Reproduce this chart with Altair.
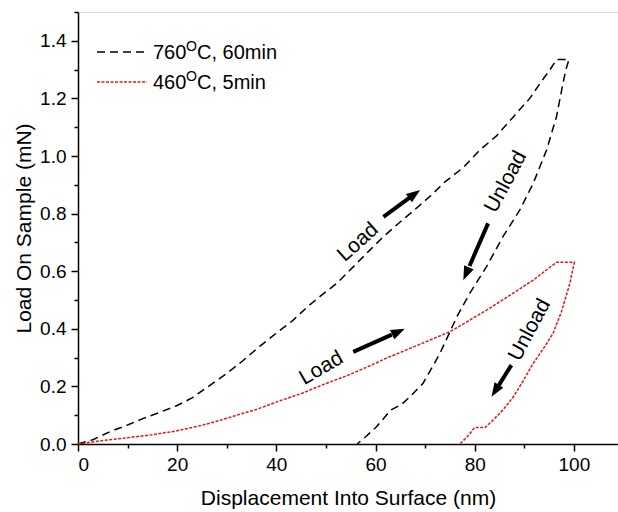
import altair as alt
import pandas as pd

# ---- data ----
black_x = [0, 3, 6.5, 10, 13.2, 16.5, 19.9, 23, 25.3, 27.3, 30, 33.3, 36.7, 40, 43.4, 46.5, 49, 52.2,
           55.5, 58.9, 61.6, 64.9, 68, 71, 74, 77.7, 81, 84.4, 88, 91.1, 93.5, 95.2, 96.5, 99,
           98.4, 97.8, 96.5, 94.5, 91.8, 89.1, 85.7, 82.4, 79, 76.5, 73, 69.6, 67, 65.1, 64.2, 63.1,
           60.2, 58, 56.3]
black_y = [0, 0.015, 0.043, 0.066, 0.089, 0.11, 0.133, 0.16, 0.188, 0.212, 0.245, 0.29, 0.34, 0.385,
           0.43, 0.48, 0.515, 0.558, 0.615, 0.674, 0.72, 0.77, 0.815, 0.86, 0.91, 0.96, 1.02, 1.07,
           1.14, 1.2, 1.26, 1.3, 1.335, 1.335,
           1.3, 1.252, 1.137, 1.021, 0.905, 0.8125, 0.72, 0.616, 0.523, 0.445, 0.315, 0.211, 0.165,
           0.135, 0.128, 0.118, 0.06, 0.025, 0.0]
red_x = [0, 5, 10, 15, 20, 25, 28.6, 32, 36, 40.7, 45, 50, 54.2, 58, 62.2, 66, 71, 75, 78.5, 82.4,
         87, 91.8, 94.5, 96.5, 100.1,
         99.7, 99.2, 97.5, 95.8, 93.8, 91.8, 89.8, 87.8, 85.8, 83.7, 82.1, 80.0, 78.5, 77.0]
red_y = [0, 0.012, 0.022, 0.032, 0.046, 0.065, 0.082, 0.1, 0.12, 0.15, 0.175, 0.21, 0.237, 0.265,
         0.298, 0.325, 0.361, 0.39, 0.425, 0.465, 0.515, 0.569, 0.605, 0.631, 0.631,
         0.6, 0.558, 0.46, 0.384, 0.33, 0.28, 0.22, 0.164, 0.12, 0.083, 0.057, 0.057, 0.025, 0.0]

x_ticks = [0, 20, 40, 60, 80, 100]
x_minor = [10, 30, 50, 70, 90]
y_ticks = [0.0, 0.2, 0.4, 0.6, 0.8, 1.0, 1.2, 1.4]
y_minor = [0.1, 0.3, 0.5, 0.7, 0.9, 1.1, 1.3, 1.5]

# annotations: label, x, y, angle
ann_labels = ["Load", "Unload", "Load", "Unload"]
ann_x = [56.5, 86.3, 49.1, 91.1]
ann_y = [0.70, 0.91, 0.263, 0.396]
ann_angle = [318, 298, 330, 298]
# arrows: start -> end (data coordinates), head angle
arr_x0 = [61.6, 82.7, 55.5, 87.4]
arr_y0 = [0.789, 0.766, 0.32, 0.274]
arr_x1 = [69.0, 77.7, 65.9, 83.4]
arr_y1 = [0.882, 0.569, 0.40, 0.164]
arr_angle = [54, 204, 65, 212]

FONT = "Liberation Sans"
W, H = 540, 432

rows = []
for i, (x, y) in enumerate(zip(black_x, black_y)):
    rows.append({"x": x, "y": y, "s": "760", "i": i})
for i, (x, y) in enumerate(zip(red_x, red_y)):
    rows.append({"x": x, "y": y, "s": "460", "i": i})
df = pd.DataFrame(rows)

xs = alt.Scale(domain=[0, 108.9], nice=False, zero=False)
ys = alt.Scale(domain=[0, 1.5], nice=False, zero=False)

ax_common = dict(grid=False, domainColor="black", tickColor="black", labelColor="black",
                 titleColor="black", labelFont=FONT, titleFont=FONT, titleFontWeight="normal",
                 domainWidth=1.5, tickWidth=1.5, tickSize=7, labelFontSize=19, titleFontSize=21)

xaxis = alt.Axis(values=x_ticks, title="Displacement Into Surface (nm)", labelPadding=4,
                 titlePadding=13, **ax_common)
yaxis = alt.Axis(values=y_ticks, format=".1f", title="Load On Sample (mN)", labelPadding=5,
                 titlePadding=5, **ax_common)

black = alt.Chart(df[df.s == "760"]).mark_line(
    color="black", strokeWidth=1.5, strokeDash=[8, 5]
).encode(x=alt.X("x:Q", scale=xs, axis=xaxis), y=alt.Y("y:Q", scale=ys, axis=yaxis), order="i:Q")

red = alt.Chart(df[df.s == "460"]).mark_line(
    color="#e8141a", strokeWidth=1.5, strokeDash=[3, 1.5]
).encode(x=alt.X("x:Q", scale=xs), y=alt.Y("y:Q", scale=ys), order="i:Q")

# annotations
layers = [black, red]
for lab, x, y, a in zip(ann_labels, ann_x, ann_y, ann_angle):
    layers.append(alt.Chart(pd.DataFrame({"x": [x], "y": [y], "t": [lab]})).mark_text(
        font=FONT, fontSize=21, angle=a, color="black", align="center", baseline="middle"
    ).encode(x=alt.X("x:Q", scale=xs), y=alt.Y("y:Q", scale=ys), text="t:N"))

arr = pd.DataFrame({"x0": arr_x0, "y0": arr_y0, "x1": arr_x1, "y1": arr_y1, "a": arr_angle})
# shaft ends a bit before the tip
arr["xm"] = arr.x0 + (arr.x1 - arr.x0) * 0.75
arr["ym"] = arr.y0 + (arr.y1 - arr.y0) * 0.75
layers.append(alt.Chart(arr).mark_rule(color="black", strokeWidth=4).encode(
    x=alt.X("x0:Q", scale=xs), y=alt.Y("y0:Q", scale=ys), x2="xm:Q", y2="ym:Q"))
layers.append(alt.Chart(arr).mark_point(
    shape="M0,0L0.6,1.6L-0.6,1.6Z", filled=True, color="black", opacity=1, size=300
).encode(x=alt.X("x1:Q", scale=xs), y=alt.Y("y1:Q", scale=ys),
         angle=alt.Angle("a:Q", scale=None)))

# legend (manual)
leg_y = [40, 70]
leg_col = ["black", "#e8141a"]
leg_dash = [[8, 5], [3, 1.5]]
leg_num = ["760", "460"]
leg_rest = ["C, 60min", "C, 5min"]
for yy, c, d, n, r in zip(leg_y, leg_col, leg_dash, leg_num, leg_rest):
    layers.append(alt.Chart(pd.DataFrame({"a": [0]})).mark_rule(
        color=c, strokeWidth=1.5, strokeDash=d).encode(
        x=alt.value(19), x2=alt.value(69), y=alt.value(yy)))
    layers.append(alt.Chart(pd.DataFrame({"t": [n]})).mark_text(
        font=FONT, fontSize=20, align="left", baseline="middle", color="black").encode(
        x=alt.value(75), y=alt.value(yy + 1), text="t:N"))
    layers.append(alt.Chart(pd.DataFrame({"t": ["O"]})).mark_text(
        font=FONT, fontSize=14, align="left", baseline="middle", color="black").encode(
        x=alt.value(108), y=alt.value(yy - 5), text="t:N"))
    layers.append(alt.Chart(pd.DataFrame({"t": [r]})).mark_text(
        font=FONT, fontSize=20, align="left", baseline="middle", color="black").encode(
        x=alt.value(119), y=alt.value(yy + 1), text="t:N"))

main = alt.layer(*layers)

# minor ticks via a second, unlabeled axis pair
minor_ax = dict(grid=False, labels=False, title=None, domain=False, tickColor="black",
                tickWidth=1.5, tickSize=4)
minor = alt.Chart(df).mark_point(opacity=0).encode(
    x=alt.X("x:Q", scale=xs, axis=alt.Axis(values=x_minor, orient="bottom", **minor_ax)),
    y=alt.Y("y:Q", scale=ys, axis=alt.Axis(values=y_minor, orient="left", **minor_ax)),
)

chart = alt.layer(main, minor).resolve_axis(x="independent", y="independent").properties(
    width=W, height=H,
    autosize=alt.AutoSizeParams(type="none"),
    padding={"left": 78, "top": 12, "right": 0, "bottom": 68},
).configure_view(stroke=None).configure(background="white")

chart.save("out.html", embed_options={"renderer": "svg", "actions": False})
